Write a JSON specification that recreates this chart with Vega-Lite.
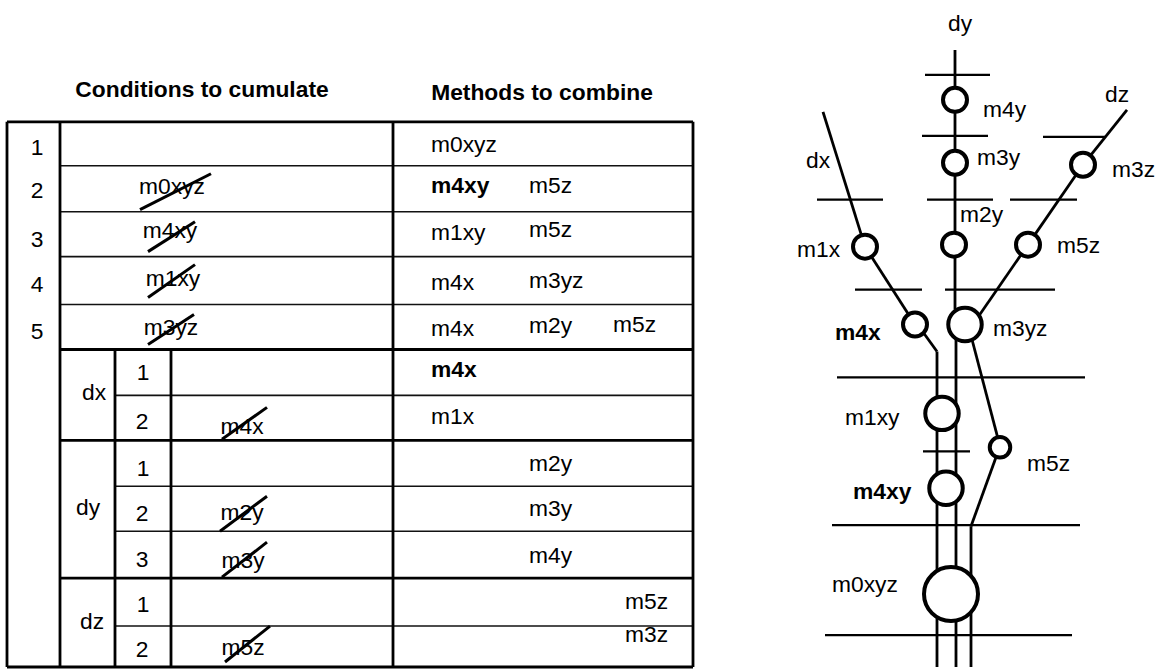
{
  "$schema": "https://vega.github.io/schema/vega-lite/v6.json",
  "width": 1166,
  "height": 669,
  "autosize": {"type": "fit", "contains": "padding"},
  "padding": 0,
  "background": "white",
  "config": {"view": {"stroke": null}, "text": {"font": "Liberation Sans", "fontSize": 22.8, "color": "black"}},
  "datasets": {
    "tableOuter": [
      {"x": 7, "y": 122, "x2": 693, "y2": 122},
      {"x": 7, "y": 668, "x2": 693, "y2": 668},
      {"x": 7, "y": 122, "x2": 7, "y2": 668},
      {"x": 693, "y": 122, "x2": 693, "y2": 668},
      {"x": 60, "y": 122, "x2": 60, "y2": 668},
      {"x": 393, "y": 122, "x2": 393, "y2": 668},
      {"x": 60, "y": 350, "x2": 693, "y2": 350},
      {"x": 60, "y": 441, "x2": 693, "y2": 441},
      {"x": 60, "y": 579, "x2": 693, "y2": 579},
      {"x": 115, "y": 350, "x2": 115, "y2": 668},
      {"x": 171, "y": 350, "x2": 171, "y2": 668}
    ],
    "tableInner": [
      {"x": 60, "y": 166, "x2": 693, "y2": 166},
      {"x": 60, "y": 212, "x2": 693, "y2": 212},
      {"x": 60, "y": 257, "x2": 693, "y2": 257},
      {"x": 60, "y": 305, "x2": 693, "y2": 305},
      {"x": 115, "y": 396, "x2": 693, "y2": 396},
      {"x": 115, "y": 487, "x2": 693, "y2": 487},
      {"x": 115, "y": 532, "x2": 693, "y2": 532},
      {"x": 115, "y": 627, "x2": 693, "y2": 627}
    ],
    "strikes": [
      {"x": 140, "y": 210, "x2": 211, "y2": 174},
      {"x": 148, "y": 252, "x2": 195, "y2": 222},
      {"x": 148, "y": 298, "x2": 195, "y2": 265},
      {"x": 148, "y": 345, "x2": 194, "y2": 315},
      {"x": 222, "y": 440, "x2": 267, "y2": 408},
      {"x": 220, "y": 532, "x2": 267, "y2": 497},
      {"x": 222, "y": 578, "x2": 267, "y2": 543},
      {"x": 225, "y": 663, "x2": 270, "y2": 627}
    ],
    "edges": [
      {"x": 955, "y": 50, "x2": 955, "y2": 310},
      {"x": 956, "y": 340, "x2": 956, "y2": 668},
      {"x": 823, "y": 112, "x2": 865, "y2": 247},
      {"x": 865, "y": 247, "x2": 915, "y2": 325},
      {"x": 924, "y": 334, "x2": 937, "y2": 352},
      {"x": 937, "y": 352, "x2": 937, "y2": 668},
      {"x": 1127, "y": 110, "x2": 1083, "y2": 165},
      {"x": 1083, "y": 165, "x2": 1028, "y2": 245},
      {"x": 1028, "y": 245, "x2": 975, "y2": 322},
      {"x": 972, "y": 340, "x2": 1000, "y2": 447},
      {"x": 1000, "y": 447, "x2": 971, "y2": 527},
      {"x": 971, "y": 527, "x2": 971, "y2": 668}
    ],
    "cuts": [
      {"x": 925, "y": 75, "x2": 990, "y2": 75},
      {"x": 922, "y": 136, "x2": 988, "y2": 136},
      {"x": 1043, "y": 137, "x2": 1105, "y2": 137},
      {"x": 817, "y": 200, "x2": 883, "y2": 200},
      {"x": 927, "y": 200, "x2": 993, "y2": 200},
      {"x": 1010, "y": 200, "x2": 1077, "y2": 200},
      {"x": 855, "y": 290, "x2": 922, "y2": 290},
      {"x": 945, "y": 290, "x2": 1055, "y2": 290},
      {"x": 837, "y": 378, "x2": 1085, "y2": 378},
      {"x": 923, "y": 452, "x2": 970, "y2": 452},
      {"x": 832, "y": 526, "x2": 1080, "y2": 526},
      {"x": 825, "y": 636, "x2": 1072, "y2": 636}
    ],
    "nodes": [
      {"method": "m4y", "x": 955, "y": 100, "tier": "m"},
      {"method": "m3y", "x": 955, "y": 163, "tier": "m"},
      {"method": "m2y", "x": 954, "y": 245, "tier": "m"},
      {"method": "m1x", "x": 865, "y": 247, "tier": "m"},
      {"method": "m3z", "x": 1083, "y": 165, "tier": "m"},
      {"method": "m5z", "x": 1028, "y": 245, "tier": "m"},
      {"method": "m4x", "x": 915, "y": 325, "tier": "m"},
      {"method": "m3yz", "x": 965, "y": 325, "tier": "l"},
      {"method": "m1xy", "x": 942, "y": 414, "tier": "l"},
      {"method": "m4xy", "x": 946, "y": 489, "tier": "l"},
      {"method": "m5z", "x": 1000, "y": 448, "tier": "s"},
      {"method": "m0xyz", "x": 951, "y": 595, "tier": "xl"}
    ],
    "labels": [
      {"t": "Conditions to cumulate", "x": 202, "y": 97, "anchor": "middle", "bold": true},
      {"t": "Methods to combine", "x": 542, "y": 100, "anchor": "middle", "bold": true},
      {"t": "1", "x": 37, "y": 155, "anchor": "middle", "bold": false},
      {"t": "2", "x": 37, "y": 198, "anchor": "middle", "bold": false},
      {"t": "3", "x": 37, "y": 247, "anchor": "middle", "bold": false},
      {"t": "4", "x": 37, "y": 292, "anchor": "middle", "bold": false},
      {"t": "5", "x": 37, "y": 340, "anchor": "middle", "bold": false},
      {"t": "m0xyz", "x": 172, "y": 194, "anchor": "middle", "bold": false},
      {"t": "m4xy", "x": 170, "y": 238, "anchor": "middle", "bold": false},
      {"t": "m1xy", "x": 173, "y": 286, "anchor": "middle", "bold": false},
      {"t": "m3yz", "x": 171, "y": 336, "anchor": "middle", "bold": false},
      {"t": "m4x", "x": 242, "y": 435, "anchor": "middle", "bold": false},
      {"t": "m2y", "x": 242, "y": 521, "anchor": "middle", "bold": false},
      {"t": "m3y", "x": 243, "y": 569, "anchor": "middle", "bold": false},
      {"t": "m5z", "x": 243, "y": 656, "anchor": "middle", "bold": false},
      {"t": "dx", "x": 94, "y": 401, "anchor": "middle", "bold": false},
      {"t": "dy", "x": 88, "y": 516, "anchor": "middle", "bold": false},
      {"t": "dz", "x": 92, "y": 630, "anchor": "middle", "bold": false},
      {"t": "1", "x": 143, "y": 381, "anchor": "middle", "bold": false},
      {"t": "2", "x": 142, "y": 430, "anchor": "middle", "bold": false},
      {"t": "1", "x": 143, "y": 477, "anchor": "middle", "bold": false},
      {"t": "2", "x": 142, "y": 522, "anchor": "middle", "bold": false},
      {"t": "3", "x": 142, "y": 568, "anchor": "middle", "bold": false},
      {"t": "1", "x": 143, "y": 613, "anchor": "middle", "bold": false},
      {"t": "2", "x": 142, "y": 658, "anchor": "middle", "bold": false},
      {"t": "m0xyz", "x": 431, "y": 152, "anchor": "start", "bold": false},
      {"t": "m4xy", "x": 431, "y": 193, "anchor": "start", "bold": true},
      {"t": "m5z", "x": 529, "y": 193, "anchor": "start", "bold": false},
      {"t": "m1xy", "x": 431, "y": 240, "anchor": "start", "bold": false},
      {"t": "m5z", "x": 529, "y": 237, "anchor": "start", "bold": false},
      {"t": "m4x", "x": 431, "y": 290, "anchor": "start", "bold": false},
      {"t": "m3yz", "x": 529, "y": 288, "anchor": "start", "bold": false},
      {"t": "m4x", "x": 431, "y": 337, "anchor": "start", "bold": false},
      {"t": "m2y", "x": 529, "y": 333, "anchor": "start", "bold": false},
      {"t": "m5z", "x": 613, "y": 332, "anchor": "start", "bold": false},
      {"t": "m4x", "x": 431, "y": 378, "anchor": "start", "bold": true},
      {"t": "m1x", "x": 431, "y": 425, "anchor": "start", "bold": false},
      {"t": "m2y", "x": 529, "y": 472, "anchor": "start", "bold": false},
      {"t": "m3y", "x": 529, "y": 517, "anchor": "start", "bold": false},
      {"t": "m4y", "x": 529, "y": 564, "anchor": "start", "bold": false},
      {"t": "m5z", "x": 625, "y": 610, "anchor": "start", "bold": false},
      {"t": "m3z", "x": 625, "y": 643, "anchor": "start", "bold": false},
      {"t": "dy", "x": 960, "y": 31, "anchor": "middle", "bold": false},
      {"t": "dx", "x": 818, "y": 168, "anchor": "middle", "bold": false},
      {"t": "dz", "x": 1117, "y": 102, "anchor": "middle", "bold": false},
      {"t": "m4y", "x": 983, "y": 117, "anchor": "start", "bold": false},
      {"t": "m3y", "x": 977, "y": 165, "anchor": "start", "bold": false},
      {"t": "m3z", "x": 1112, "y": 177, "anchor": "start", "bold": false},
      {"t": "m2y", "x": 960, "y": 222, "anchor": "start", "bold": false},
      {"t": "m1x", "x": 797, "y": 257, "anchor": "start", "bold": false},
      {"t": "m5z", "x": 1057, "y": 253, "anchor": "start", "bold": false},
      {"t": "m4x", "x": 835, "y": 341, "anchor": "start", "bold": true},
      {"t": "m3yz", "x": 993, "y": 337, "anchor": "start", "bold": false},
      {"t": "m1xy", "x": 845, "y": 426, "anchor": "start", "bold": false},
      {"t": "m4xy", "x": 853, "y": 500, "anchor": "start", "bold": true},
      {"t": "m5z", "x": 1027, "y": 472, "anchor": "start", "bold": false},
      {"t": "m0xyz", "x": 832, "y": 593, "anchor": "start", "bold": false}
    ]
  },
  "encoding": {
    "x": {"field": "x", "type": "quantitative", "scale": {"domain": [0, 1166], "nice": false, "zero": false}, "axis": null},
    "y": {"field": "y", "type": "quantitative", "scale": {"domain": [0, 669], "nice": false, "zero": false, "reverse": true}, "axis": null}
  },
  "layer": [
    {
      "data": {"name": "tableInner"},
      "mark": {"type": "rule", "stroke": "#111", "strokeWidth": 1.6},
      "encoding": {"x2": {"field": "x2"}, "y2": {"field": "y2"}}
    },
    {
      "data": {"name": "tableOuter"},
      "mark": {"type": "rule", "stroke": "black", "strokeWidth": 2.8},
      "encoding": {"x2": {"field": "x2"}, "y2": {"field": "y2"}}
    },
    {
      "data": {"name": "strikes"},
      "mark": {"type": "rule", "stroke": "black", "strokeWidth": 3},
      "encoding": {"x2": {"field": "x2"}, "y2": {"field": "y2"}}
    },
    {
      "data": {"name": "cuts"},
      "mark": {"type": "rule", "stroke": "black", "strokeWidth": 2.2},
      "encoding": {"x2": {"field": "x2"}, "y2": {"field": "y2"}}
    },
    {
      "data": {"name": "edges"},
      "mark": {"type": "rule", "stroke": "black", "strokeWidth": 2.8},
      "encoding": {"x2": {"field": "x2"}, "y2": {"field": "y2"}}
    },
    {
      "data": {"name": "nodes"},
      "transform": [{"filter": "datum.tier == 's'"}],
      "mark": {"type": "point", "shape": "circle", "size": 420, "filled": true, "fill": "white", "fillOpacity": 1, "stroke": "black", "strokeWidth": 4, "opacity": 1}
    },
    {
      "data": {"name": "nodes"},
      "transform": [{"filter": "datum.tier == 'm'"}],
      "mark": {"type": "point", "shape": "circle", "size": 576, "filled": true, "fill": "white", "fillOpacity": 1, "stroke": "black", "strokeWidth": 4, "opacity": 1}
    },
    {
      "data": {"name": "nodes"},
      "transform": [{"filter": "datum.tier == 'l'"}],
      "mark": {"type": "point", "shape": "circle", "size": 1120, "filled": true, "fill": "white", "fillOpacity": 1, "stroke": "black", "strokeWidth": 4, "opacity": 1}
    },
    {
      "data": {"name": "nodes"},
      "transform": [{"filter": "datum.tier == 'xl'"}],
      "mark": {"type": "point", "shape": "circle", "size": 2916, "filled": true, "fill": "white", "fillOpacity": 1, "stroke": "black", "strokeWidth": 4, "opacity": 1}
    },
    {
      "data": {"name": "labels"},
      "transform": [{"filter": "datum.anchor == 'start' && !datum.bold"}],
      "mark": {"type": "text", "align": "left", "baseline": "alphabetic"},
      "encoding": {"text": {"field": "t"}}
    },
    {
      "data": {"name": "labels"},
      "transform": [{"filter": "datum.anchor == 'start' && datum.bold"}],
      "mark": {"type": "text", "align": "left", "baseline": "alphabetic", "fontWeight": "bold"},
      "encoding": {"text": {"field": "t"}}
    },
    {
      "data": {"name": "labels"},
      "transform": [{"filter": "datum.anchor == 'middle' && !datum.bold"}],
      "mark": {"type": "text", "align": "center", "baseline": "alphabetic"},
      "encoding": {"text": {"field": "t"}}
    },
    {
      "data": {"name": "labels"},
      "transform": [{"filter": "datum.anchor == 'middle' && datum.bold"}],
      "mark": {"type": "text", "align": "center", "baseline": "alphabetic", "fontWeight": "bold"},
      "encoding": {"text": {"field": "t"}}
    }
  ]
}
